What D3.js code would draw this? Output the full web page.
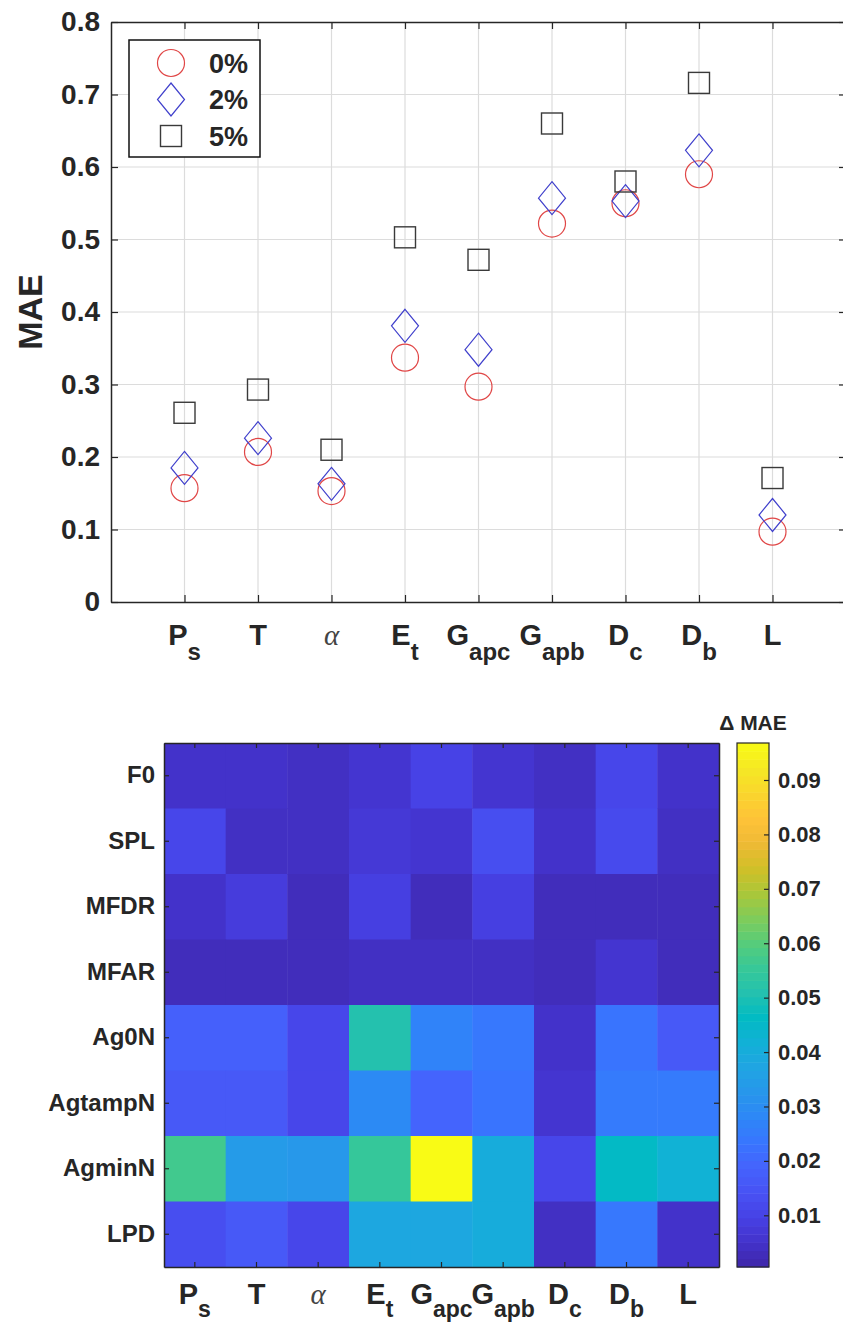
<!DOCTYPE html>
<html>
<head>
<meta charset="utf-8">
<script src="https://cdn.jsdelivr.net/npm/d3@7"></script>
<style>
  body { margin: 0; background: #fff; }
  svg { display: block; }
</style>
</head>
<body>
<div id="chart"></div>
<script>
// parameters (x axis of both panels), "_" marks the subscript
var params = ["P_s", "T", "\u03b1", "E_t", "G_apc", "G_apb", "D_c", "D_b", "L"];

// MAE per noise level (top panel)
var noiseLevels = ["0%", "2%", "5%"];
var mae0 = [0.157, 0.207, 0.153, 0.337, 0.297, 0.522, 0.550, 0.590, 0.097];
var mae2 = [0.185, 0.226, 0.163, 0.381, 0.348, 0.557, 0.553, 0.623, 0.120];
var mae5 = [0.261, 0.293, 0.210, 0.503, 0.472, 0.660, 0.580, 0.716, 0.171];
var yTicks = [0, 0.1, 0.2, 0.3, 0.4, 0.5, 0.6, 0.7, 0.8];

// delta MAE heatmap (bottom panel), one row per feature
var features = ["F0", "SPL", "MFDR", "MFAR", "Ag0N", "AgtampN", "AgminN", "LPD"];
var dF0      = [0.005, 0.005, 0.004, 0.006, 0.010, 0.006, 0.004, 0.011, 0.005];
var dSPL     = [0.011, 0.004, 0.004, 0.007, 0.006, 0.013, 0.005, 0.012, 0.004];
var dMFDR    = [0.005, 0.008, 0.003, 0.009, 0.003, 0.009, 0.003, 0.003, 0.003];
var dMFAR    = [0.003, 0.003, 0.003, 0.004, 0.004, 0.004, 0.003, 0.006, 0.003];
var dAg0N    = [0.018, 0.018, 0.011, 0.051, 0.027, 0.024, 0.005, 0.023, 0.016];
var dAgtampN = [0.016, 0.016, 0.011, 0.029, 0.019, 0.023, 0.006, 0.025, 0.025];
var dAgminN  = [0.057, 0.034, 0.033, 0.055, 0.0968, 0.040, 0.011, 0.046, 0.042];
var dLPD     = [0.013, 0.016, 0.011, 0.038, 0.038, 0.040, 0.004, 0.024, 0.005];
var cbarTicks = [0.01, 0.02, 0.03, 0.04, 0.05, 0.06, 0.07, 0.08, 0.09];
var cRange = [0.0005, 0.0968];

// parula colormap (every 3rd entry of the 64 colour table)
var parula = [
  [0.2422, 0.1504, 0.6603], [0.2647, 0.1978, 0.7952], [0.2783, 0.2559, 0.8991],
  [0.2810, 0.3228, 0.9579], [0.2699, 0.3892, 0.9906], [0.2206, 0.4603, 0.9973],
  [0.1786, 0.5289, 0.9682], [0.1540, 0.5902, 0.9218], [0.1248, 0.6459, 0.8883],
  [0.0689, 0.6948, 0.8394], [0.0067, 0.7312, 0.7660], [0.1408, 0.7584, 0.6842],
  [0.2161, 0.7843, 0.5923], [0.3406, 0.8008, 0.4789], [0.5044, 0.7993, 0.3480],
  [0.6720, 0.7793, 0.2227], [0.8203, 0.7498, 0.1535], [0.9393, 0.7288, 0.2100],
  [0.9970, 0.7659, 0.2199], [0.9786, 0.8386, 0.1766], [0.9597, 0.9135, 0.1423],
  [0.9769, 0.9839, 0.0805]
];

var font = "'Liberation Sans', Arial, Helvetica, sans-serif";
var axisColor = "#262626";

var svg = d3.select("#chart").append("svg")
    .attr("width", 843)
    .attr("height", 1326);

// split "G_apc" into main letter + subscript, alpha is TeX italic
function addParamLabel(g, label, x, y, mainSize, subSize, subDy) {
    var parts = label.split("_");
    var t = g.append("text")
        .attr("x", x)
        .attr("y", y)
        .attr("text-anchor", "middle")
        .attr("fill", "#262626");
    if (parts[0] === "\u03b1") {
        t.attr("font-family", "'Liberation Serif', 'DejaVu Serif', serif")
            .attr("font-style", "italic")
            .attr("font-size", mainSize)
            .attr("fill", "#444")
            .text(parts[0]);
        return;
    }
    t.attr("font-family", font).attr("font-weight", "bold");
    t.append("tspan").attr("font-size", mainSize).text(parts[0]);
    if (parts[1]) {
        t.append("tspan").attr("font-size", subSize).attr("dy", subDy).text(parts[1]);
    }
}

function styleAxis(g) {
    g.select(".domain").attr("stroke", axisColor).attr("stroke-width", 1.5);
    g.selectAll(".tick line").attr("stroke", axisColor).attr("stroke-width", 1.2);
    g.selectAll(".tick text")
        .attr("font-family", font)
        .attr("font-weight", "bold")
        .attr("fill", "#262626");
}

// ---------------- top panel: MAE scatter ----------------
var x = d3.scaleLinear().domain([0, 10]).range([111, 846]);
var y = d3.scaleLinear().domain([0, 0.8]).range([602, 22]);
var xIdx = d3.range(1, params.length + 1);

var topPanel = svg.append("g");

topPanel.append("g").selectAll("line.vg")
    .data(xIdx).enter().append("line")
    .attr("x1", function(d) { return x(d); })
    .attr("x2", function(d) { return x(d); })
    .attr("y1", y(0)).attr("y2", y(0.8))
    .attr("stroke", "#dcdcdc").attr("stroke-width", 1.2);
topPanel.append("g").selectAll("line.hg")
    .data(yTicks.slice(1, -1)).enter().append("line")
    .attr("x1", x(0)).attr("x2", x(10))
    .attr("y1", function(d) { return y(d); })
    .attr("y2", function(d) { return y(d); })
    .attr("stroke", "#dcdcdc").attr("stroke-width", 1.2);

var yAxis = topPanel.append("g")
    .attr("transform", "translate(" + x(0) + ",0)")
    .call(d3.axisLeft(y).tickValues(yTicks).tickSize(-7).tickSizeOuter(0).tickPadding(11)
        .tickFormat(function(d) { return d === 0 ? "0" : d3.format(".1f")(d); }));
styleAxis(yAxis);
yAxis.selectAll(".tick text").attr("font-size", 28);

styleAxis(topPanel.append("g")
    .attr("transform", "translate(" + x(10) + ",0)")
    .call(d3.axisRight(y).tickValues(yTicks).tickSize(-7).tickSizeOuter(0).tickFormat("")));
styleAxis(topPanel.append("g")
    .attr("transform", "translate(0," + y(0) + ")")
    .call(d3.axisBottom(x).tickValues(xIdx).tickSize(-7).tickSizeOuter(0).tickFormat("")));
styleAxis(topPanel.append("g")
    .attr("transform", "translate(0," + y(0.8) + ")")
    .call(d3.axisTop(x).tickValues(xIdx).tickSize(-7).tickSizeOuter(0).tickFormat("")));

params.forEach(function(p, i) {
    addParamLabel(topPanel, p, x(i + 1), 645, 29, 24, 15);
});

topPanel.append("text")
    .attr("transform", "translate(42,312) rotate(-90)")
    .attr("text-anchor", "middle")
    .attr("font-family", font)
    .attr("font-weight", "bold")
    .attr("font-size", 34)
    .attr("fill", "#262626")
    .text("MAE");

var markerColor = { circle: "#e04646", diamond: "#4040cc", square: "#3a3a3a" };

function drawMarker(g, type, cx, cy) {
    if (type === "circle") {
        g.append("circle").attr("cx", cx).attr("cy", cy).attr("r", 13.5)
            .attr("fill", "none").attr("stroke", markerColor.circle).attr("stroke-width", 1.2);
    } else if (type === "diamond") {
        g.append("path")
            .attr("d", "M" + cx + "," + (cy - 16.5) + "L" + (cx + 13.5) + "," + cy +
                "L" + cx + "," + (cy + 16.5) + "L" + (cx - 13.5) + "," + cy + "Z")
            .attr("fill", "none").attr("stroke", markerColor.diamond).attr("stroke-width", 1.2);
    } else {
        g.append("rect").attr("x", cx - 10.5).attr("y", cy - 10.5).attr("width", 21).attr("height", 21)
            .attr("fill", "none").attr("stroke", markerColor.square).attr("stroke-width", 1.4);
    }
}

var series = [
    { name: noiseLevels[0], type: "circle", values: mae0 },
    { name: noiseLevels[1], type: "diamond", values: mae2 },
    { name: noiseLevels[2], type: "square", values: mae5 }
];

var marks = topPanel.append("g");
series.forEach(function(s) {
    s.values.forEach(function(v, i) {
        drawMarker(marks, s.type, x(i + 1), y(v));
    });
});

// legend
var legend = topPanel.append("g");
legend.append("rect")
    .attr("x", 129).attr("y", 40).attr("width", 131).attr("height", 117)
    .attr("fill", "#fff").attr("stroke", "#111").attr("stroke-width", 1.5);
series.forEach(function(s, i) {
    var ly = 63 + i * 36.5;
    drawMarker(legend, s.type, 171, ly);
    legend.append("text")
        .attr("x", 209).attr("y", ly).attr("dy", "0.36em")
        .attr("font-family", font).attr("font-weight", "bold").attr("font-size", 27)
        .attr("fill", "#262626")
        .text(s.name);
});

// ---------------- bottom panel: delta MAE heatmap ----------------
var heat = [dF0, dSPL, dMFDR, dMFAR, dAg0N, dAgtampN, dAgminN, dLPD];
var cells = [];
heat.forEach(function(row, r) {
    row.forEach(function(v, c) {
        cells.push({ feature: features[r], param: params[c], value: v });
    });
});

var hx = d3.scaleBand().domain(params).range([164, 719]);
var hy = d3.scaleBand().domain(features).range([743, 1267]);

var stops = parula.map(function(c, i) {
    return cRange[0] + i / (parula.length - 1) * (cRange[1] - cRange[0]);
});
var color = d3.scaleLinear()
    .domain(stops)
    .range(parula.map(function(c) { return d3.rgb(c[0] * 255, c[1] * 255, c[2] * 255); }))
    .clamp(true);

var hm = svg.append("g");
hm.selectAll("rect.cell")
    .data(cells).enter().append("rect")
    .attr("class", "cell")
    .attr("x", function(d) { return hx(d.param); })
    .attr("y", function(d) { return hy(d.feature); })
    .attr("width", hx.bandwidth() + 0.5)
    .attr("height", hy.bandwidth() + 0.5)
    .attr("fill", function(d) { return color(d.value); });

var hyAxis = hm.append("g")
    .attr("transform", "translate(164,0)")
    .call(d3.axisLeft(hy).tickSize(-5).tickSizeOuter(0).tickPadding(9));
styleAxis(hyAxis);
hyAxis.selectAll(".tick text").attr("font-size", 24);
styleAxis(hm.append("g")
    .attr("transform", "translate(719,0)")
    .call(d3.axisRight(hy).tickSize(-5).tickSizeOuter(0).tickFormat("")));
styleAxis(hm.append("g")
    .attr("transform", "translate(0,1267)")
    .call(d3.axisBottom(hx).tickSize(-5).tickSizeOuter(0).tickFormat("")));
styleAxis(hm.append("g")
    .attr("transform", "translate(0,743)")
    .call(d3.axisTop(hx).tickSize(-5).tickSizeOuter(0).tickFormat("")));

params.forEach(function(p) {
    addParamLabel(hm, p, hx(p) + hx.bandwidth() / 2, 1304, 29, 23, 13);
});

// colorbar
var cy = d3.scaleLinear().domain(cRange).range([1267, 743]);
var nSteps = 64;
var cb = svg.append("g");
cb.selectAll("rect.step")
    .data(d3.range(nSteps)).enter().append("rect")
    .attr("x", 737)
    .attr("width", 32)
    .attr("y", function(i) { return cy(cRange[0] + (i + 1) / nSteps * (cRange[1] - cRange[0])); })
    .attr("height", (1267 - 743) / nSteps + 0.5)
    .attr("fill", function(i) { return color(cRange[0] + (i + 0.5) / nSteps * (cRange[1] - cRange[0])); });
cb.append("rect")
    .attr("x", 737).attr("y", 743).attr("width", 32).attr("height", 524)
    .attr("fill", "none").attr("stroke", axisColor).attr("stroke-width", 1.2);
var cbAxis = cb.append("g")
    .attr("transform", "translate(769,0)")
    .call(d3.axisRight(cy).tickValues(cbarTicks).tickSize(-5).tickSizeOuter(0).tickPadding(9)
        .tickFormat(d3.format(".2f")));
styleAxis(cbAxis);
cbAxis.select(".domain").remove();
cbAxis.selectAll(".tick text").attr("font-size", 22);

cb.append("text")
    .attr("x", 753).attr("y", 730)
    .attr("text-anchor", "middle")
    .attr("font-family", font).attr("font-weight", "bold").attr("font-size", 21)
    .attr("fill", "#262626")
    .text("\u0394 MAE");
</script>
</body>
</html>
